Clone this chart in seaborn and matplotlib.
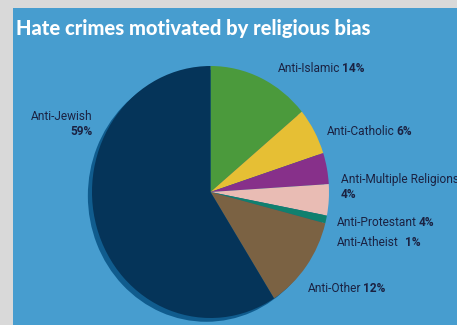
import matplotlib
matplotlib.use("Agg")
import matplotlib.pyplot as plt
import seaborn as sns
from matplotlib.patches import Rectangle
from matplotlib.text import Annotation

# data
categories = ["Anti-Islamic", "Anti-Catholic", "Anti-Multiple Religions", "Anti-Protestant",
              "Anti-Atheist", "Anti-Other", "Anti-Jewish"]
shares = [14, 6, 4, 4, 1, 12, 59]
pct_labels = ["14%", "6%", "4%", "4%", "1%", "12%", "59%"]
colors = ["#4b9a3c", "#e6bf34", "#87308a", "#e9bcb4", "#10806e", "#7b6243", "#053459"]

sns.set_style("white")
plt.rcParams['font.family'] = ['Roboto', 'DejaVu Sans']

W, H = 457, 325
fig = plt.figure(figsize=(W / 100, H / 100), dpi=100)
fig.patch.set_facecolor("#d9d9d9")
fig.patches.append(Rectangle((13 / W, 0), 1, (H - 8) / H, transform=fig.transFigure,
                             facecolor="#479dcf", edgecolor="none", zorder=-5))

fig.text(16 / W, 1 - 29 / H, "Hate crimes motivated by religious bias", color="white",
         fontsize=14.5, fontweight="black", family=["Lato", "DejaVu Sans"], va="center", ha="left")

# pie axes (slightly taller than wide, like the original)
ax = fig.add_axes([92 / W, 7 / H, 237 / W, 252 / H])
ax.set_zorder(1)

# shadow
shadow, _ = ax.pie([1], colors=["#105c8e"], radius=1.0, center=(-0.035, -0.03),
                   wedgeprops=dict(linewidth=0))
wedges, _ = ax.pie(shares, colors=colors, startangle=90, counterclock=False, radius=1.0,
                   wedgeprops=dict(linewidth=0))
for w in shadow + wedges:
    w.set_clip_on(False)
ax.set_xlim(-1, 1)
ax.set_ylim(-1, 1)
ax.set_aspect("auto")
ax.axis("off")

# label positions in pixels (x, y from top), layout
label_pos = {
    "Anti-Islamic": (278, 69, "inline"),
    "Anti-Catholic": (327, 132, "inline"),
    "Anti-Multiple Religions": (341, 179, "below"),
    "Anti-Protestant": (337, 223, "inline"),
    "Anti-Atheist": (337, 243, "inline2"),
    "Anti-Other": (308, 289, "inline"),
    "Anti-Jewish": (93, 116, "below_right"),
}
txt_color = "#1b2242"
fs = 8.6
for cat, pct in zip(categories, pct_labels):
    x, y, mode = label_pos[cat]
    ha = "right" if mode == "below_right" else "left"
    t = fig.text(x / W, 1 - y / H, cat, color=txt_color, fontsize=fs,
                 ha=ha, va="center", zorder=5)
    if mode in ("inline", "inline2"):
        gap = 2 if mode == "inline" else 6
        fig.add_artist(Annotation(pct, xy=(1, 0.5), xycoords=t, xytext=(gap, 0),
                                  textcoords="offset pixels", color=txt_color, fontsize=fs,
                                  fontweight="bold", ha="left", va="center", zorder=5))
    else:
        fig.text(x / W, 1 - (y + 16) / H, pct, color=txt_color, fontsize=fs, fontweight="bold",
                 ha=ha, va="center", zorder=5)

fig.savefig("out.png", dpi=100, facecolor=fig.get_facecolor())
